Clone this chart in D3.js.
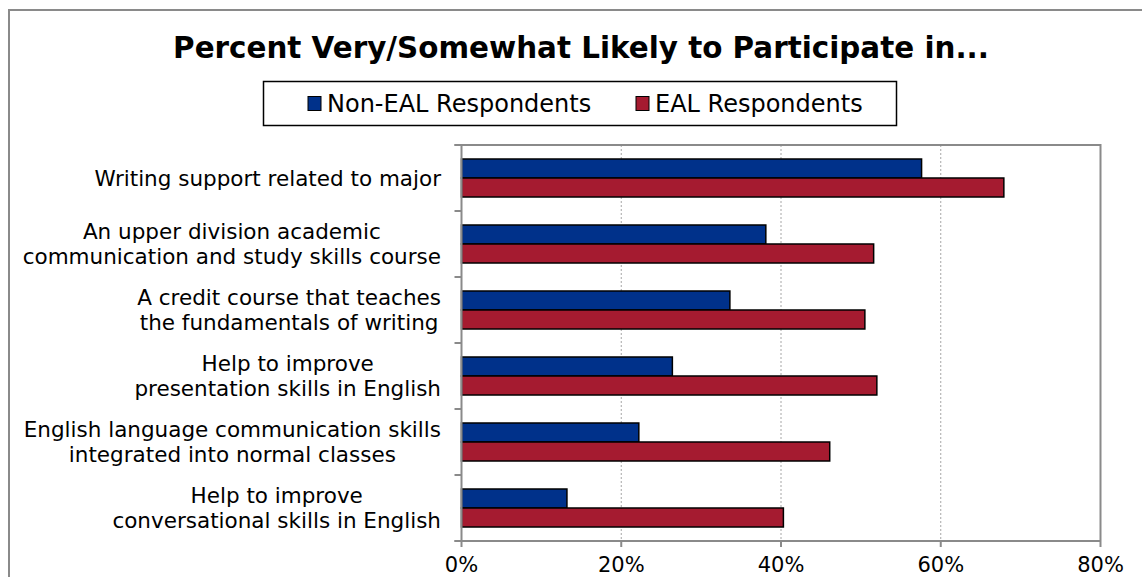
<!DOCTYPE html>
<html><head><meta charset="utf-8">
<script src="https://cdn.jsdelivr.net/npm/d3@7"></script>
<style>body{margin:0;background:#fff;}svg{display:block;}</style>
</head><body>
<svg id="chart" width="1142" height="577"></svg>
<script>
const title = "Percent Very/Somewhat Likely to Participate in...";
const categories = [
  ["Writing support related to major"],
  ["An upper division academic", "communication and study skills course"],
  ["A credit course that teaches", "the fundamentals of writing"],
  ["Help to improve", "presentation skills in English"],
  ["English language communication skills", "integrated into normal classes"],
  ["Help to improve", "conversational skills in English"]
];
const seriesNames = ["Non-EAL Respondents", "EAL Respondents"];
const nonEAL = [57.6, 38.1, 33.6, 26.4, 22.2, 13.2];
const eal = [67.9, 51.6, 50.5, 52.0, 46.1, 40.3];
const xTicks = [0, 20, 40, 60, 80];
const colors = ["#00318A", "#A51B30"];

const svg = d3.select("#chart");
const FONT = "DejaVu Sans, Verdana, sans-serif";
const m = {left: 461.5, right: 1100.5, top: 145, bottom: 541};

// outer border
svg.append("rect").attr("x", 9).attr("y", 10).attr("width", 1150).attr("height", 600)
  .attr("fill", "none").attr("stroke", "#8a8a8a").attr("stroke-width", 2);

// title
svg.append("text").attr("x", 581).attr("y", 58).attr("text-anchor", "middle")
  .attr("font-family", FONT).attr("font-weight", "bold")
  .attr("font-size", 29.4).attr("fill", "#000").text(title);

const x = d3.scaleLinear().domain([0, 80]).range([m.left, m.right]);
const idx = d3.range(categories.length);
const y0 = d3.scaleBand().domain(idx).range([m.top, m.bottom]).paddingInner(0).paddingOuter(0);
const y1 = d3.scaleBand().domain([0, 1]).range([14, 52]);

// gridlines
svg.append("g").selectAll("line").data(xTicks.slice(1, -1)).join("line")
  .attr("x1", d => x(d)).attr("x2", d => x(d)).attr("y1", m.top).attr("y2", m.bottom)
  .attr("stroke", "#a6a6a6").attr("stroke-width", 1).attr("stroke-dasharray", "2,2");

// plot border top & right
svg.append("path").attr("d", `M${m.left - 7},${m.top}H${m.right}V${m.bottom}`)
  .attr("fill", "none").attr("stroke", "#8a8a8a").attr("stroke-width", 2);

// bars
const g = svg.append("g");
idx.forEach(i => {
  [nonEAL[i], eal[i]].forEach((v, s) => {
    g.append("rect")
      .attr("x", x(0)).attr("y", y0(i) + y1(s))
      .attr("width", x(v) - x(0)).attr("height", y1.bandwidth())
      .attr("fill", colors[s]).attr("stroke", "#000").attr("stroke-width", 1.5);
  });
});

// y axis
const yAxisG = svg.append("g");
yAxisG.append("line").attr("x1", m.left).attr("x2", m.left).attr("y1", m.top).attr("y2", m.bottom)
  .attr("stroke", "#8a8a8a").attr("stroke-width", 2);
yAxisG.selectAll("line.tk").data(d3.range(categories.length + 1)).join("line").attr("class", "tk")
  .attr("x1", m.left - 7).attr("x2", m.left)
  .attr("y1", d => m.top + d * y0.step()).attr("y2", d => m.top + d * y0.step())
  .attr("stroke", "#8a8a8a").attr("stroke-width", 2);

// category labels
const labelRight = 441, lineH = 25;
idx.forEach(i => {
  const lines = categories[i];
  const cy = y0(i) + y0.bandwidth() / 2;
  const tg = svg.append("g");
  const texts = lines.map((t, k) => tg.append("text")
    .attr("font-family", FONT).attr("font-size", 21.5)
    .attr("fill", "#000").attr("text-anchor", "middle")
    .attr("y", cy + (k - (lines.length - 1) / 2) * lineH + 7.5).text(t));
  const maxW = d3.max(texts, t => t.node().getComputedTextLength());
  texts.forEach(t => t.attr("x", labelRight - maxW / 2));
});

// x axis
const xAxisG = svg.append("g");
xAxisG.append("line").attr("x1", m.left - 7).attr("x2", m.right).attr("y1", m.bottom).attr("y2", m.bottom)
  .attr("stroke", "#8a8a8a").attr("stroke-width", 2);
xAxisG.selectAll("line.tk").data(xTicks).join("line").attr("class", "tk")
  .attr("x1", d => x(d)).attr("x2", d => x(d)).attr("y1", m.bottom).attr("y2", m.bottom + 6)
  .attr("stroke", "#8a8a8a").attr("stroke-width", 2);
xAxisG.selectAll("text").data(xTicks).join("text")
  .attr("x", d => x(d)).attr("y", 572).attr("text-anchor", "middle")
  .attr("font-family", FONT).attr("font-size", 21)
  .attr("fill", "#000").text(d => d + "%");

// legend
const leg = svg.append("g");
leg.append("rect").attr("x", 263.5).attr("y", 81.5).attr("width", 633).attr("height", 44)
  .attr("fill", "#fff").attr("stroke", "#000").attr("stroke-width", 1.5);
const legX = [308, 636];
seriesNames.forEach((n, s) => {
  leg.append("rect").attr("x", legX[s]).attr("y", 96.5).attr("width", 13).attr("height", 14)
    .attr("fill", colors[s]).attr("stroke", "#000").attr("stroke-width", 1);
  leg.append("text").attr("x", legX[s] + 19).attr("y", 112)
    .attr("font-family", FONT).attr("font-size", 24)
    .attr("fill", "#000").text(n);
});
</script>
</body></html>
